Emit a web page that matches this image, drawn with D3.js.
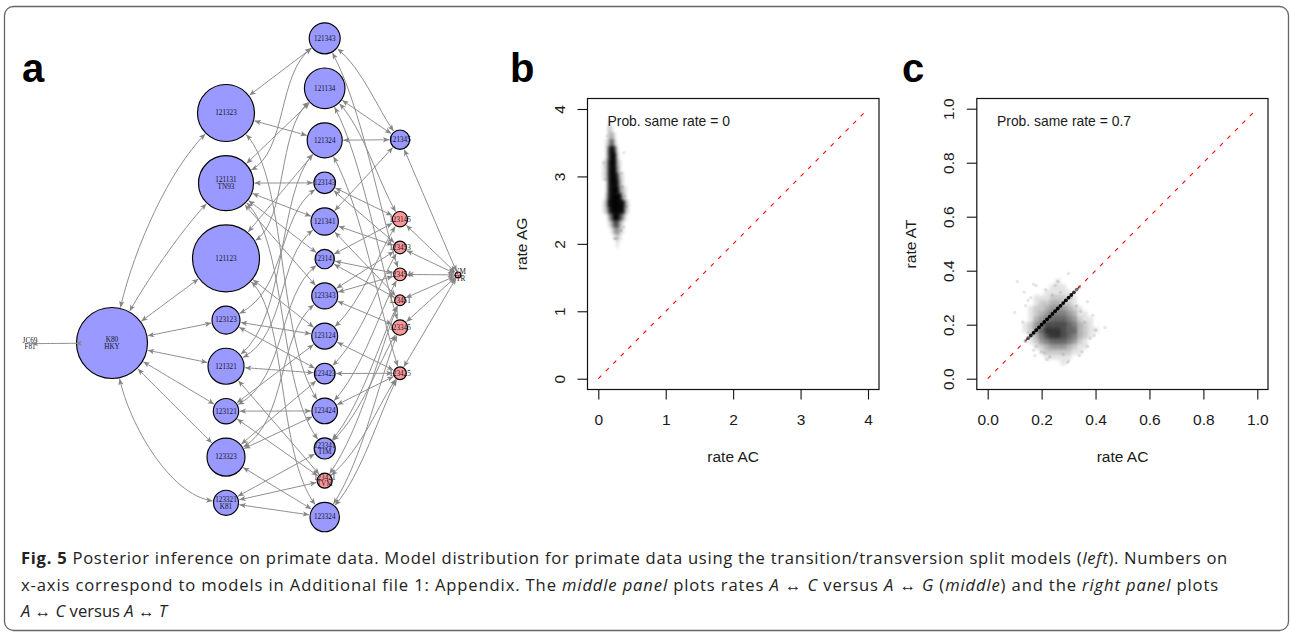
<!DOCTYPE html>
<html><head><meta charset="utf-8">
<script src="https://cdn.jsdelivr.net/npm/d3@7/dist/d3.min.js"></script>
<style>html,body{margin:0;background:#fff}svg{display:block}</style>
</head><body><svg id="c" width="1290" height="632"></svg>
<script>
// ---------- panel a: models (partition strings) and posterior probabilities, by column ----------
const rank0 = ["111111"];
const rank1 = ["121121"];
const rank2 = ["121323","121131","121123","123123","121321","123121","123323","123321"];
const rank3 = ["121343","121134","121324","123143","121341","123141","123343","123124","123423","123424","123341","123421","123324"];
const rank4 = ["121345","123145","123453","123454","123451","123345","123425"];
const rank5 = ["123456"];
const prob0 = [0.00003];
const prob1 = [0.0875];
const prob2 = [0.0564,0.0525,0.0779,0.0136,0.0225,0.0112,0.0251,0.0109];
const prob3 = [0.0167,0.0286,0.0213,0.0081,0.0130,0.0065,0.0117,0.0117,0.0074,0.0114,0.0077,0.0039,0.0150];
const prob4 = [0.0065,0.0041,0.0028,0.0028,0.0020,0.0041,0.0028];
const prob5 = [0.0006];
const altNames = {"111111":["JC69","F81"],"121121":["K80","HKY"],"121131":["121131","TN93"],"123321":["123321","K81"],"123341":["123341","TIM"],"123421":["123421","TVM"],"123456":["SYM","GTR"]};
const pinkModels = ["123421","123145","123453","123454","123451","123345","123425","123456"];
// ---------- panels b, c: posterior sample density ----------
const rateTicksB = [0,1,2,3,4];
const rateTicksC = [0,0.2,0.4,0.6,0.8,1];
const densXB = [.04,.08,.12,.16,.20,.24,.28,.32,.36,.40,.44,.48];
const densYB = [3.8,3.7,3.6,3.5,3.4,3.3,3.2,3.1,3.0,2.9,2.8,2.7,2.6,2.5,2.4,2.3,2.2,2.1,2.0];
const densB = ["000100000000","000210000000","000231000000","001362000000","001797100000","001799200000","012899310000","012899410000","012899721000","001899831000","001899942100","002899993100","013999999410","012799999310","000369974100","000136631000","000013421000","000001210000","000000100000"];
const looseXB = [.08,.38,.35,.42,.38,.24,.27,.10,.36,.13,.34,.40];
const looseYB = [3.2,3.35,3.05,2.55,2.25,2.08,2.08,2.95,2.85,3.6,2.2,2.7];
const densXC = [.10,.12,.14,.16,.18,.20,.22,.24,.26,.28,.30,.32,.34,.36,.38,.40,.42,.44];
const densYC = [.36,.34,.32,.30,.28,.26,.24,.22,.20,.18,.16,.14,.12,.10,.08,.06];
const densC = ["000000001000000000","000000011100000000","000000111110000000","000011122211000000","000012233221000000","000122344432100000","000123455543110000","000134566654211000","001245777765321000","001246888766321100","000135788765321000","000124566654210000","000012344432110000","000001222221100000","000000111110000000","000000000100000000"];
const looseXC = [.11,.10,.135,.17,.18,.30,.26,.25,.215,.16,.15,.13,.33,.37,.39,.435,.40,.395,.37,.35,.34,.30,.295,.28,.23,.21,.175,.17,.22,.20,.24,.27,.31,.36,.38,.14,.15,.18,.33,.345];
const looseYC = [.36,.245,.32,.35,.345,.39,.36,.345,.33,.30,.29,.21,.33,.285,.235,.19,.18,.16,.12,.10,.085,.065,.06,.09,.08,.095,.085,.105,.07,.10,.31,.32,.30,.21,.15,.27,.17,.12,.27,.25];
const sameRate = [.14,.15,.16,.17,.18,.19,.20,.21,.22,.23,.24,.25,.26,.27,.28,.29,.30,.31,.32,.33,.34];
const sameWeight = [.25,.6,.85,1,1,1,1,1,1,1,1,1,1,1,1,1,1,.9,.8,.5,.25];
const diag = [0,1];

const svg = d3.select("#c");
const MONO = "'Liberation Sans',Arial,sans-serif";

// card
svg.append("rect").attr("x",4.5).attr("y",6.5).attr("width",1284).attr("height",624).attr("rx",9)
  .attr("fill","#fff").attr("stroke","#666").attr("stroke-width",1.3);

// panel letters
[["a",22,82],["b",510,82],["c",902,82]].forEach(d=>
  svg.append("text").attr("x",d[1]).attr("y",d[2]).text(d[0]).attr("font-family",MONO).attr("font-weight",700).attr("font-size",40).attr("fill","#000"));

// ---------- network ----------
const ranks = [rank0,rank1,rank2,rank3,rank4,rank5];
const probs = [prob0,prob1,prob2,prob3,prob4,prob5];
const colX = d3.scaleOrdinal().domain([0,1,2,3,4,5]).range([30,112,226,324.7,400,458]);
const rScale = d3.scaleSqrt().domain([0,1]).range([0,120]);
const colTop = [343,307.5,84.5,22.8,130,272];
const colGap = 14.2;
const extraGap = {"123145":48,"123425":17.5};
const nodes = [], byId = {};
ranks.forEach((ids,ri)=>{
  let y = colTop[ri];
  ids.forEach((id,i)=>{
    const r = rScale(probs[ri][i]);
    y += (extraGap[id]||0);
    const n = {id,rank:ri,r,x:colX(ri),y:y+r};
    y += 2*r+colGap;
    nodes.push(n); byId[id]=n;
  });
});
function groups(id){const m={};[...id].forEach((c,i)=>(m[c]=m[c]||[]).push(i));return Object.values(m).map(a=>a.join(""));}
function refines(fine,coarse){const g=groups(coarse);return groups(fine).every(f=>g.some(c=>[...f].every(ch=>c.includes(ch))));}
const links=[];
ranks.slice(0,-1).forEach((ids,ri)=>ids.forEach(a=>ranks[ri+1].forEach(b=>{ if(refines(b,a)) links.push({s:byId[a],t:byId[b]}); })));

const defs = svg.append("defs");
defs.append("marker").attr("id","arr").attr("viewBox","-8 -4 9 8").attr("refX",0).attr("refY",0)
  .attr("markerWidth",9).attr("markerHeight",8).attr("markerUnits","userSpaceOnUse").attr("orient","auto-start-reverse")
  .append("path").attr("d","M0,0L-6.4,-2.7L-4.8,0L-6.4,2.7Z").attr("fill","#858585");
defs.append("filter").attr("id","soft").attr("x","-30%").attr("y","-30%").attr("width","160%").attr("height","160%")
  .append("feGaussianBlur").attr("stdDeviation",1.4);

const k80Bend = {"121323":[[.2,.42],[.5,.75]],"121131":[[.28,.36],[.6,.7]],"123321":[[.15,.5],[.5,.95]]};
function edgePath(l){
  const s=l.s,t=l.t,dx=t.x-s.x,dy=t.y-s.y,sl=Math.abs(dy)/dx;
  let f1=[1/3,1/3],f2=[2/3,2/3];
  if(s.rank===1 && k80Bend[t.id]){ [f1,f2]=k80Bend[t.id]; }
  else if(s.rank===2 && sl>1.2){ f1=[.62,.22]; f2=[.52,.76]; }
  else if(s.rank===3 && sl>1.1){ f1=[.5,.3]; f2=[.72,.72]; }
  const c1=[s.x+dx*f1[0],s.y+dy*f1[1]], c2=[s.x+dx*f2[0],s.y+dy*f2[1]];
  const u=(a,b)=>{const h=Math.hypot(b[0]-a[0],b[1]-a[1]);return [(b[0]-a[0])/h,(b[1]-a[1])/h];};
  const us=u([s.x,s.y],c1), ut=u([t.x,t.y],c2);
  const a=[s.x+us[0]*(s.r+1),s.y+us[1]*(s.r+1)], b=[t.x+ut[0]*(t.r+1),t.y+ut[1]*(t.r+1)];
  const p=d3.path(); p.moveTo(a[0],a[1]); p.bezierCurveTo(c1[0],c1[1],c2[0],c2[1],b[0],b[1]); return p.toString();
}
const gNet=svg.append("g");
gNet.selectAll("circle").data(nodes.filter(n=>n.rank>0)).join("circle")
  .attr("cx",d=>d.x).attr("cy",d=>d.y).attr("r",d=>d.r)
  .attr("fill",d=>pinkModels.includes(d.id)?"#ff9999":"#9999ff").attr("stroke","#000").attr("stroke-width",1.15);
const lab=gNet.selectAll("text").data(nodes).join("text")
  .attr("font-family","'Liberation Serif',serif").attr("font-size",7.2).attr("fill","#15152a").attr("text-anchor","middle");
lab.each(function(d){
  const names=altNames[d.id]||[d.id], sel=d3.select(this);
  names.forEach((t,i)=>sel.append("tspan").attr("x",d.x).attr("y",d.y+2.4+(i-(names.length-1)/2)*6.6).text(t));
});
gNet.append("g").selectAll("path").data(links).join("path").attr("d",edgePath)
  .attr("fill","none").attr("stroke","#8f8f8f").attr("stroke-width",1)
  .attr("marker-start","url(#arr)").attr("marker-end","url(#arr)");

// ---------- scatter panels ----------
function panel(opt){
  const {left,right,top,bottom,x0,x1,y0,y1,dom,ticks,fmt,xt,yt,note,tickX,titleX,noteX} = opt;
  const x=d3.scaleLinear().domain(dom).range([x0,x1]);
  const y=d3.scaleLinear().domain(dom).range([y0,y1]);
  const g=svg.append("g");
  g.append("line").attr("x1",x(diag[0]*dom[1])).attr("y1",y(diag[0]*dom[1])).attr("x2",x(diag[1]*dom[1])).attr("y2",y(diag[1]*dom[1]))
    .attr("stroke","#f00").attr("stroke-width",1.1).attr("stroke-dasharray","4.2 6.4");
  opt.draw(g,x,y);
  g.append("rect").attr("x",left).attr("y",top).attr("width",right-left).attr("height",bottom-top)
    .attr("fill","none").attr("stroke","#111").attr("stroke-width",1.2);
  const ax=g.append("g").attr("transform",`translate(0,${bottom})`)
    .call(d3.axisBottom(x).tickValues(ticks).tickFormat(fmt).tickSize(10).tickPadding(0));
  const ay=g.append("g").attr("transform",`translate(${left},0)`)
    .call(d3.axisLeft(y).tickValues(ticks).tickFormat(fmt).tickSize(10).tickPadding(0));
  [ax,ay].forEach(a=>{a.select(".domain").remove();a.selectAll("line").attr("stroke","#111").attr("stroke-width",1.1);
    a.selectAll("text").attr("font-family",MONO).attr("font-size",15.5).attr("fill","#1a1a1a");});
  ax.selectAll("text").attr("dy",null).attr("y",35);
  ay.selectAll("text").attr("x",null).attr("dy",null).attr("y",null)
    .attr("text-anchor","middle").attr("transform",`translate(${tickX-left},0) rotate(-90)`);
  g.append("text").attr("x",(x0+x1)/2).attr("y",462).attr("text-anchor","middle").text(xt)
    .attr("font-family",MONO).attr("font-size",15.5).attr("fill","#1a1a1a");
  g.append("text").attr("transform",`translate(${titleX},244) rotate(-90)`).attr("text-anchor","middle").text(yt)
    .attr("font-family",MONO).attr("font-size",15.5).attr("fill","#1a1a1a");
  g.append("text").attr("x",noteX).attr("y",126).text(note)
    .attr("font-family",MONO).attr("font-size",13.9).attr("fill","#1a1a1a");
}
function densityCells(g,x,y,xs,ys,rows,stepX,stepY,gain){
  const cells=[];
  rows.forEach((row,ri)=>[...row].forEach((ch,ci)=>{ if(+ch>0) cells.push({x:xs[ci],y:ys[ri],v:+ch}); }));
  const w=Math.abs(x(stepX)-x(0)),h=Math.abs(y(stepY)-y(0));
  g.append("g").attr("filter","url(#soft)").selectAll("rect").data(cells).join("rect")
    .attr("x",d=>x(d.x)-w/2).attr("y",d=>y(d.y)-h/2).attr("width",w+.3).attr("height",h+.3)
    .attr("fill","#000").attr("opacity",d=>d.v/9*gain);
}
function loose(g,x,y,xs,ys,r,o){
  g.append("g").selectAll("circle").data(xs.map((v,i)=>[v,ys[i]])).join("circle")
    .attr("cx",d=>x(d[0])).attr("cy",d=>y(d[1])).attr("r",r).attr("fill","#000").attr("opacity",o);
}
panel({left:587.5,right:879,top:98.5,bottom:389.5,x0:598.3,x1:868,y0:378.7,y1:109,dom:[0,4],ticks:rateTicksB,fmt:d3.format("d"),
  xt:"rate AC",yt:"rate AG",note:"Prob. same rate = 0",tickX:565,titleX:526.5,noteX:607.5,
  draw:(g,x,y)=>{ densityCells(g,x,y,densXB,densYB,densB,.04,.1,1); loose(g,x,y,looseXB,looseYB,1.8,.08); }});
panel({left:976.8,right:1268,top:98.5,bottom:389.5,x0:987.7,x1:1257.3,y0:378.7,y1:108.7,dom:[0,1],ticks:rateTicksC,fmt:d3.format(".1f"),
  xt:"rate AC",yt:"rate AT",note:"Prob. same rate = 0.7",tickX:954,titleX:916,noteX:997,
  draw:(g,x,y)=>{ densityCells(g,x,y,densXC,densYC,densC,.02,.02,.88); loose(g,x,y,looseXC,looseYC,1.8,.09);
    g.append("g").selectAll("circle").data(sameRate.map((v,i)=>[v,sameWeight[i]])).join("circle")
      .attr("cx",d=>x(d[0])).attr("cy",d=>y(d[0])).attr("r",1.9).attr("fill","#000").attr("opacity",d=>d[1]); }});

// ---------- caption ----------
const capRuns = [
 [["Fig. 5","b"],[" Posterior inference on primate data. Model distribution for primate data using the transition/transversion split models ("],["left","i"],["). Numbers on"]],
 [["x-axis correspond to models in Additional file 1: Appendix. The "],["middle panel","i"],[" plots rates "],["A","i"],[" ↔ "],["C","i"],[" versus "],["A","i"],[" ↔ "],["G","i"],[" ("],["middle","i"],[") and the "],["right panel","i"],[" plots"]],
 [["A","i"],[" ↔ "],["C","i"],[" versus "],["A","i"],[" ↔ "],["T","i"]]
];
const capY=[564,590.7,617], capEnd=[1228,1219,null];
capRuns.forEach((runs,i)=>{
  const t=svg.append("text").attr("x",21).attr("y",capY[i]).attr("font-family","'Open Sans',sans-serif").attr("font-size",16.6).attr("fill","#222").attr("xml:space","preserve").style("white-space","pre");
  runs.forEach(r=>t.append("tspan").text(r[0]).attr("font-weight",r[1]==="b"?700:400).attr("font-style",r[1]==="i"?"italic":"normal"));
  if(capEnd[i]){ const len=t.node().getComputedTextLength(), n=runs.map(r=>r[0]).join("").length;
    t.attr("letter-spacing",((capEnd[i]-21-len)/n).toFixed(3)); }
});
</script></body></html>
